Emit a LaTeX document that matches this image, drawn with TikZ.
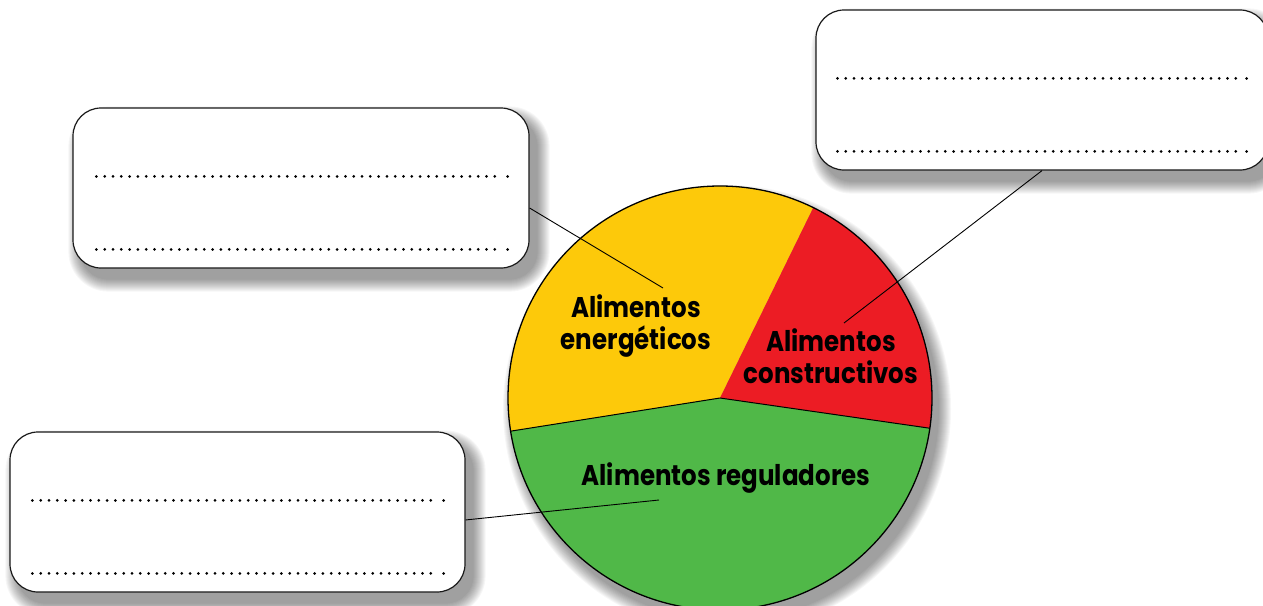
\documentclass[tikz,border=0pt]{standalone}
\usepackage{fontspec}
\newfontfamily\lab[FakeStretch=0.86]{Poppins}
\usetikzlibrary{backgrounds,calc}
\definecolor{yel}{HTML}{FDC90A}
\definecolor{rd}{HTML}{EC1C24}
\definecolor{grn}{HTML}{50B848}
\begin{document}
\begin{tikzpicture}[x=1pt,y=-1pt,
  box/.style={draw=black!90, line width=1.2pt, fill=white, rounded corners=28pt, minimum width=456pt, minimum height=160pt, inner sep=0pt},
  lbl/.style={font=\lab\bfseries\fontsize{28.5}{32}\selectfont, align=center, inner sep=0pt},
  conn/.style={line width=0.9pt, black},
  shad/.style={black, opacity=0.035}
]
\useasboundingbox (0,0) rectangle (1263,605);
\clip (0,0) rectangle (1263,605);
% boxes
\node[box] (b1) at (301,188) {};
\node[box, minimum width=452pt] (b2) at (1042,90) {};
\node[box, minimum width=455pt] (b3) at (237.5,512) {};
% shadows
\begin{pgfonlayer}{background}
\foreach \n in {b1,b2,b3}{
  \foreach \d in {0,1,...,12}{
    \fill[shad, rounded corners=28pt+\d pt] ($(\n.north west)+(8-\d,11-\d)$) rectangle ($(\n.south east)+(8+\d,11+\d)$);
  }
}
\end{pgfonlayer}
% dotted rows
\foreach \n/\l in {b1/24,b2/22,b3/23}{
  \foreach \yy in {69,142}{
    \foreach \k in {0,...,48}{
      \fill ($(\n.north west)+(\l+\k*8.3,\yy)$) circle (1.5pt);
    }
    \fill ($(\n.north east)+(-22,\yy)$) circle (1.5pt);
  }
}
% pie
\coordinate (c) at (720,398);
\foreach \d in {0,1,...,12}{
  \fill[shad] ($(c)+(7,11)$) circle (212pt+\d pt);
}
\fill[yel] (c) -- ++(63.9:212pt) arc[start angle=63.9,end angle=189,radius=212pt] -- cycle;
\fill[rd] (c) -- ++(-8.2:212pt) arc[start angle=-8.2,end angle=63.9,radius=212pt] -- cycle;
\fill[grn] (c) -- ++(189:212pt) arc[start angle=189,end angle=351.8,radius=212pt] -- cycle;
\draw[line width=1pt] ($(c)+(189:212pt)$) -- (c) -- ++(-8.2:212pt);
\draw[line width=1.3pt] (c) circle (212pt);
% labels
\node[lbl] (le) at (636,326) {Alimentos\\energéticos};
\node[lbl] (lc) at (831,356) {Alimentos\\constructivos};
\node[lbl] (lr) at (726,478) {Alimentos reguladores};
% connectors
\coordinate (p1) at (663,288);
\coordinate (p2) at (844,323);
\coordinate (p3) at (659,500);
\draw[conn] (b1.-5.3) -- (p1);
\draw[conn] (b2.south) -- (p2);
\draw[conn] (b3.-2.3) -- (p3);
\end{tikzpicture}
\end{document}
